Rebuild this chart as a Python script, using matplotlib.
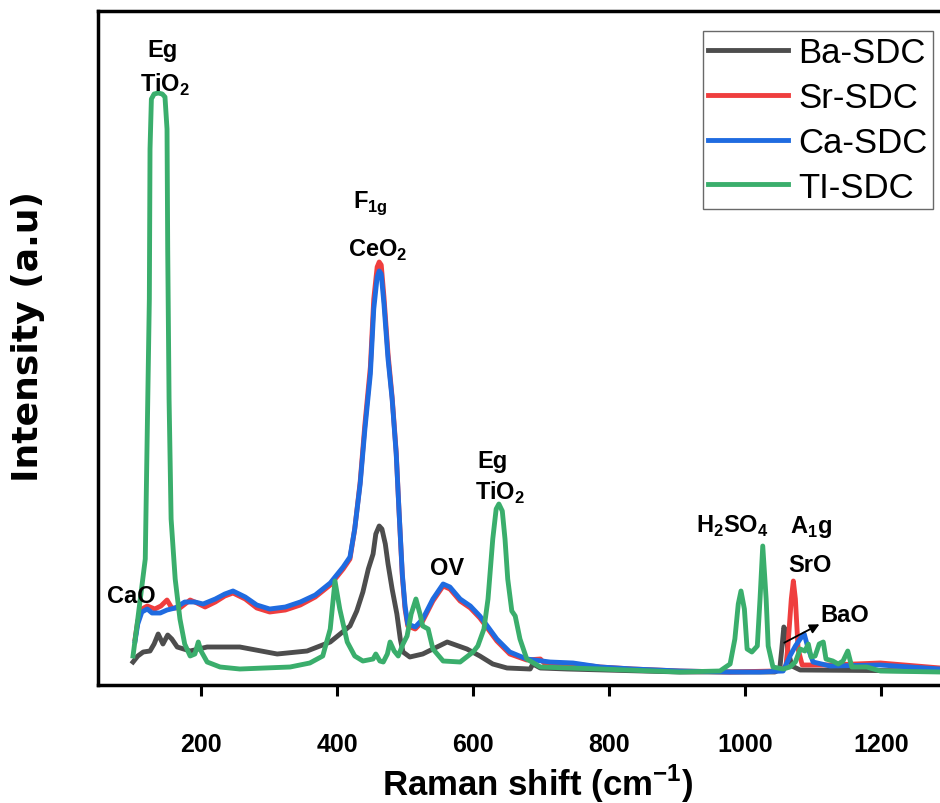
import matplotlib
matplotlib.use("Agg")
import matplotlib.pyplot as plt
from matplotlib import font_manager

plt.rcParams['font.family'] = ['Liberation Sans', 'DejaVu Sans']

installed = {f.name for f in font_manager.fontManager.ttflist}
narrow_ok = 'Liberation Sans Narrow' in installed

# Ba-SDC
ba_x = [100, 107, 115, 125, 131, 137, 144, 151, 157, 165, 184, 209, 257, 312, 356, 390,
        419, 429, 438, 446, 453, 457, 462, 466, 471, 475, 481, 488, 493, 497, 507, 526,
        562, 591, 610, 629, 650, 684, 688, 699, 738, 904, 1044, 1051, 1054, 1057, 1060,
        1063, 1069, 1081, 1287]
ba_y = [23, 29, 33, 34, 41, 51, 41, 50, 46, 38, 34, 38, 38, 31, 34, 43,
        59, 74, 93, 116, 131, 151, 159, 156, 141, 121, 96, 71, 46, 33, 28, 31,
        43, 36, 29, 21, 17, 16, 21, 17, 16, 13, 13, 16, 36, 58, 54,
        34, 19, 15, 14]

# Sr-SDC
sr_x = [103, 107, 113, 121, 132, 141, 150, 157, 169, 184, 194, 206, 221, 235, 247, 265,
        282, 301, 324, 346, 368, 390, 409, 419, 426, 434, 441, 449, 454, 459, 462, 465,
        469, 475, 481, 487, 491, 496, 500, 504, 515, 526, 541, 556, 566, 581, 596, 610,
        621, 635, 654, 679, 699, 706, 747, 787, 835, 904, 978, 1044, 1060, 1063, 1068,
        1071, 1074, 1078, 1084, 1125, 1199, 1287]
sr_y = [46, 64, 76, 79, 76, 79, 85, 77, 77, 85, 82, 78, 83, 89, 92, 86,
        77, 73, 75, 80, 88, 100, 116, 126, 156, 203, 261, 318, 386, 418, 423, 420,
        388, 331, 288, 233, 176, 109, 76, 59, 56, 64, 84, 99, 96, 84, 77, 67,
        57, 44, 31, 25, 26, 21, 21, 18, 16, 14, 13, 14, 18, 39, 86,
        104, 86, 36, 20, 20, 22, 17]

# Ca-SDC
ca_x = [103, 107, 113, 121, 128, 140, 150, 162, 176, 191, 203, 221, 235, 247, 265, 282,
        301, 324, 346, 368, 390, 409, 419, 426, 434, 441, 449, 454, 459, 462, 465, 469,
        475, 481, 487, 491, 496, 500, 504, 515, 526, 541, 556, 566, 581, 596, 610, 621,
        635, 654, 679, 713, 747, 787, 835, 904, 978, 1022, 1056, 1066, 1074, 1081, 1087,
        1093, 1100, 1125, 1199, 1287]
ca_y = [44, 61, 73, 76, 72, 72, 75, 77, 83, 83, 81, 86, 91, 94, 88, 80,
        76, 78, 83, 90, 102, 118, 128, 156, 201, 256, 311, 376, 408, 414, 411, 381,
        326, 286, 231, 176, 111, 79, 61, 58, 66, 86, 101, 98, 86, 79, 69, 59,
        46, 33, 26, 23, 22, 18, 16, 14, 13, 13, 14, 29, 39, 46, 51,
        36, 23, 19, 20, 16]

# TI-SDC
ti_x = [100, 107, 118, 124, 125, 127, 131, 137, 143, 147, 150, 151, 153, 156, 162, 169,
        176, 184, 191, 196, 200, 209, 228, 257, 331, 360, 379, 390, 397, 404, 415, 426,
        438, 453, 457, 463, 468, 474, 478, 484, 490, 497, 503, 509, 516, 522, 526, 534,
        541, 556, 581, 600, 607, 616, 622, 629, 634, 638, 643, 647, 651, 657, 662, 669,
        679, 699, 787, 904, 963, 978, 985, 990, 994, 999, 1003, 1010, 1018, 1022, 1026,
        1031, 1034, 1041, 1056, 1066, 1074, 1081, 1088, 1093, 1097, 1103, 1109, 1115,
        1119, 1129, 1137, 1144, 1151, 1157, 1179, 1199, 1287]
ti_y = [29, 66, 126, 386, 536, 586, 591, 592, 591, 588, 556, 436, 286, 166, 106, 66,
        41, 29, 31, 43, 34, 23, 18, 16, 18, 22, 29, 56, 104, 76, 43, 29,
        24, 26, 31, 24, 23, 31, 43, 34, 29, 41, 49, 71, 86, 71, 59, 56,
        36, 24, 23, 33, 39, 56, 86, 146, 176, 181, 174, 146, 106, 74, 69, 46,
        26, 18, 16, 13, 14, 21, 46, 81, 94, 76, 36, 33, 39, 86, 139,
        86, 39, 18, 16, 18, 23, 36, 34, 41, 28, 29, 41, 43,
        26, 24, 21, 24, 34, 18, 18, 14, 13]

names = ['Ba-SDC', 'Sr-SDC', 'Ca-SDC', 'TI-SDC']
colors = ['#4d4d4d', '#ef3e3e', '#1f6be0', '#3aae6c']

fig = plt.figure(figsize=(9.4, 8.04), dpi=100)
ax = fig.add_axes([98 / 940, 118 / 804, 847 / 940, 674 / 804])

for xs, ys, name, c in zip([ba_x, sr_x, ca_x, ti_x], [ba_y, sr_y, ca_y, ti_y], names, colors):
    ax.plot(xs, ys, color=c, lw=3.5, label=name, solid_joinstyle='round')

ax.set_xlim(48.5, 1294)
ax.set_ylim(0, 674)
ax.set_xticks([200, 400, 600, 800, 1000, 1200])
ax.set_yticks([])
for s in ax.spines.values():
    s.set_linewidth(2.5)

if narrow_ok:
    tick_font = dict(family='Liberation Sans Narrow', size=20, weight='bold')
    xlab_font = dict(family='Liberation Sans Narrow', size=29, weight='bold')
else:
    tick_font = dict(family='Liberation Sans', size=18, weight='bold')
    xlab_font = dict(family='Liberation Sans', size=25, weight='bold')

ax.tick_params(axis='x', length=8, width=2.2, pad=26)
for lab in ax.get_xticklabels():
    lab.set_fontproperties(font_manager.FontProperties(**tick_font))

ax.set_xlabel('Raman shift (cm$^{\\mathregular{-1}}$)', fontdict=xlab_font)
ax.xaxis.set_label_coords(0.519, -0.114)
ax.set_ylabel('Intensity (a.u)', fontsize=26, fontweight='bold', family='DejaVu Sans')
ax.yaxis.set_label_coords(-0.062, 0.519)

kw = dict(fontsize=17, fontweight='bold', ha='center', va='baseline')
ax.text(143, 629, 'Eg', **kw)
ax.text(147, 594, 'TiO$_\\mathregular{2}$', **kw)
ax.text(449, 478, 'F$_\\mathregular{1g}$', **kw)
ax.text(460, 429, 'CeO$_\\mathregular{2}$', **kw)
ax.text(97, 83, 'CaO', **kw)
ax.text(562, 111, 'OV', **kw)
ax.text(628, 218, 'Eg', **kw)
ax.text(640, 186, 'TiO$_\\mathregular{2}$', **kw)
ax.text(982, 153, 'H$_\\mathregular{2}$SO$_\\mathregular{4}$', **kw)
ax.text(1097, 153, 'A$_\\mathregular{1}$g', **kw)
ax.text(1096, 114, 'SrO', **kw)
ax.text(1146, 64, 'BaO', **kw)
ax.annotate('', xy=(1113, 62), xytext=(1054, 41),
            arrowprops=dict(arrowstyle='-|>', color='black', lw=1.3, mutation_scale=14))

leg = ax.legend(loc='upper right', bbox_to_anchor=(933 / 940, 1 - 32 / 804),
                bbox_transform=fig.transFigure, fontsize=25, frameon=True,
                fancybox=False, borderaxespad=0, handlelength=2.3,
                handletextpad=0.3, labelspacing=0.34, borderpad=0.15)
leg.get_frame().set_edgecolor('#444444')
leg.get_frame().set_linewidth(1.0)

fig.savefig('out.png', dpi=100)
